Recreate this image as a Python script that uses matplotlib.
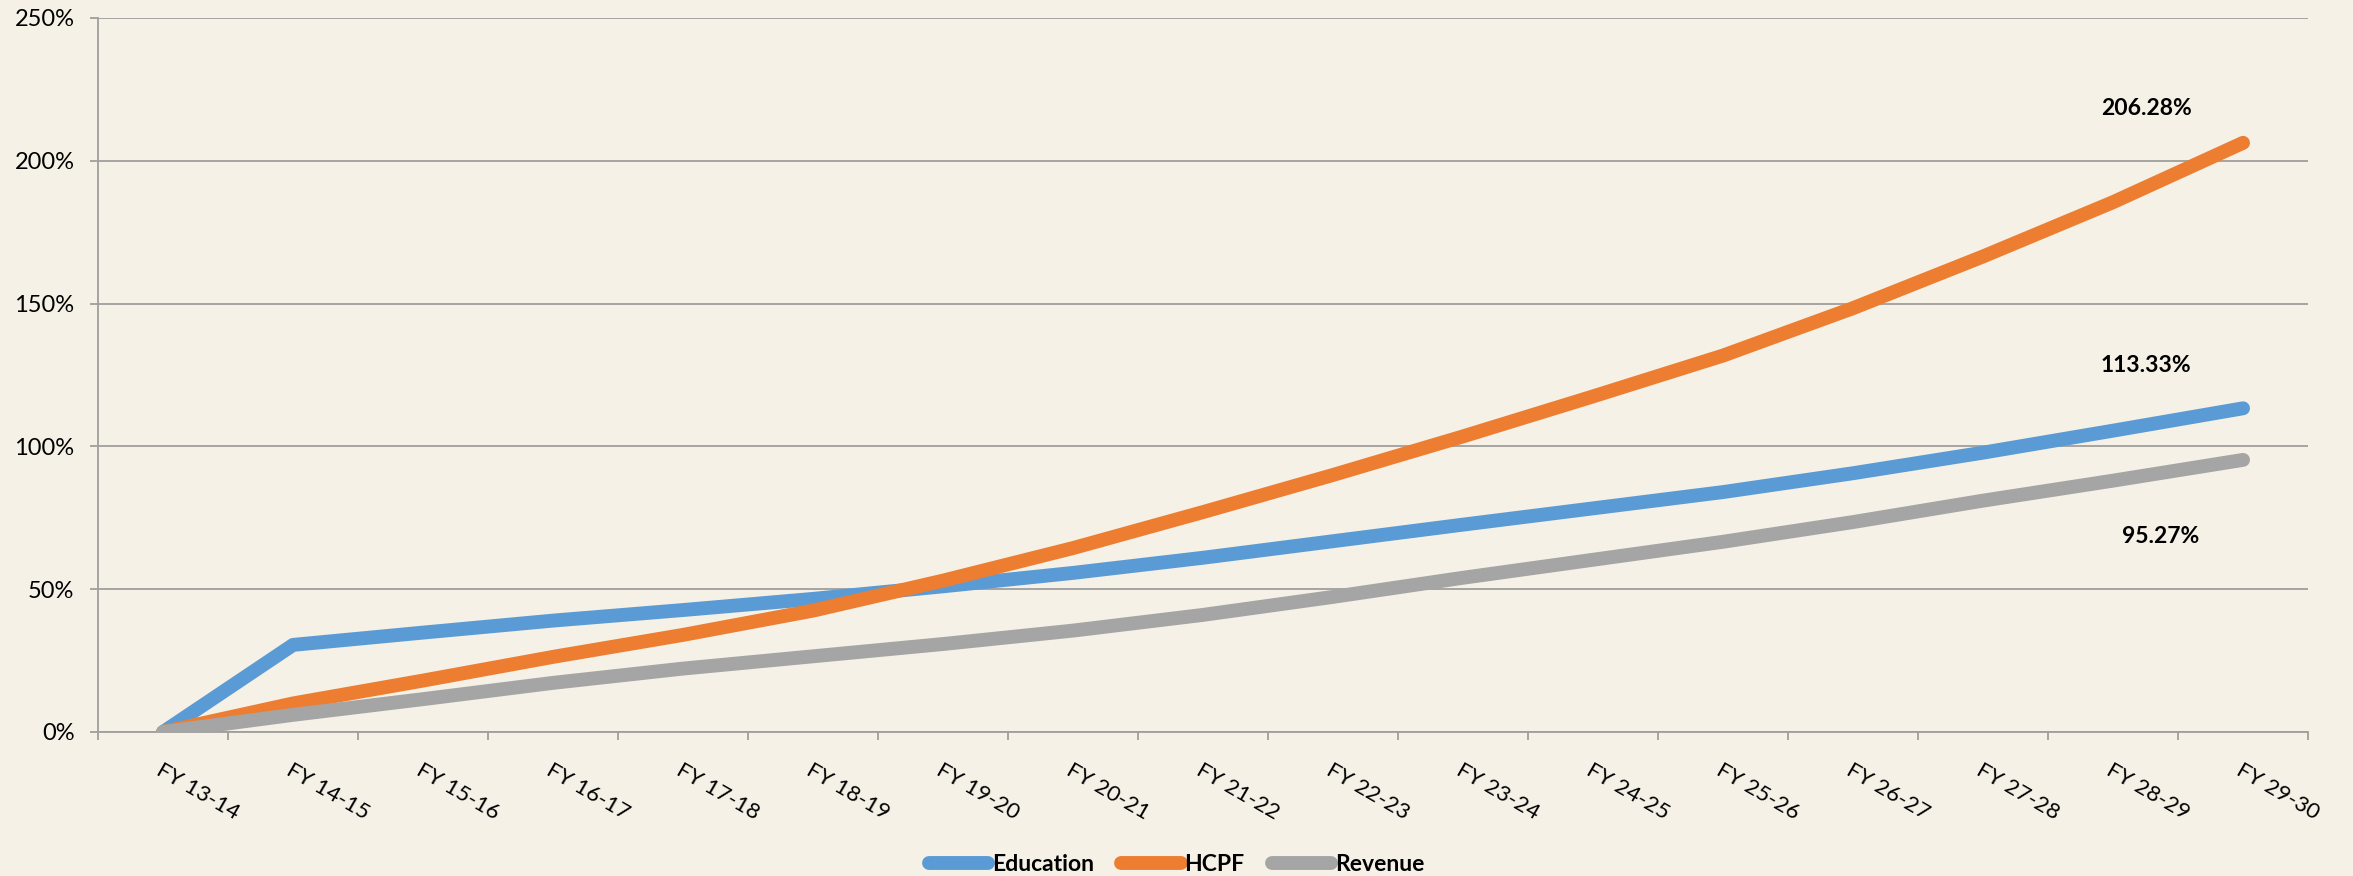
import matplotlib.pyplot as plt
from matplotlib.ticker import FuncFormatter, MultipleLocator
import numpy as np

years = ["FY 13-14", "FY 14-15", "FY 15-16", "FY 16-17", "FY 17-18", "FY 18-19",
         "FY 19-20", "FY 20-21", "FY 21-22", "FY 22-23", "FY 23-24", "FY 24-25",
         "FY 25-26", "FY 26-27", "FY 27-28", "FY 28-29", "FY 29-30"]

education = [0, 30.5, 34.8, 39.0, 42.7, 46.6, 51.0, 55.7, 61.0, 66.8, 72.6,
             78.3, 84.0, 90.6, 97.8, 105.5, 113.33]
hcpf = [0, 10.0, 18.0, 26.3, 34.0, 42.5, 53.0, 64.4, 77.0, 90.0, 103.5,
        117.5, 131.8, 148.4, 166.5, 185.5, 206.28]
revenue = [0, 6.0, 11.5, 17.2, 22.2, 26.5, 30.8, 35.5, 41.0, 47.3, 54.0,
           60.3, 66.6, 73.5, 81.0, 88.0, 95.27]

bg = "#F5F1E6"
grid_col = "#A09F9C"
plt.rcParams['font.family'] = ['Lato', 'DejaVu Sans']

fig = plt.figure(figsize=(23.53, 8.76), dpi=100, facecolor=bg)
ax = fig.add_axes([0.0417, 0.1644, 0.9392, 0.8151])
ax.set_facecolor(bg)

x = np.arange(len(years))
series = [("Education", education, "#5B9BD5"),
          ("HCPF", hcpf, "#ED7D31"),
          ("Revenue", revenue, "#A5A5A5")]
for name, vals, col in series:
    ax.plot(x, vals, color=col, lw=10, label=name,
            solid_capstyle="round", solid_joinstyle="round", zorder=3)

# end-point labels
ax.annotate(f"{hcpf[-1]:.2f}%", (x[-1], hcpf[-1]), xytext=(-97, 34),
            textcoords="offset pixels", ha="center", va="center",
            fontsize=16.5, fontweight="bold")
ax.annotate(f"{education[-1]:.2f}%", (x[-1], education[-1]), xytext=(-97, 43),
            textcoords="offset pixels", ha="center", va="center",
            fontsize=16.5, fontweight="bold")
ax.annotate(f"{revenue[-1]:.2f}%", (x[-1], revenue[-1]), xytext=(-82, -77),
            textcoords="offset pixels", ha="center", va="center",
            fontsize=16.5, fontweight="bold")

ax.set_xlim(-0.5, len(years) - 0.5)
ax.set_ylim(0, 250)
ax.yaxis.set_major_locator(MultipleLocator(50))
ax.yaxis.set_major_formatter(FuncFormatter(lambda v, p: f"{v:.0f}%"))
ax.grid(axis="y", color=grid_col, lw=1.3)
ax.set_axisbelow(True)

ax.set_xticks(x)
ax.set_xticklabels(years, rotation=-30, ha="left", rotation_mode="anchor")
ax.set_xticks(np.arange(-0.5, len(years), 1), minor=True)
ax.tick_params(axis="x", which="major", length=0, pad=20, labelsize=16)
ax.tick_params(axis="x", which="minor", length=6, width=1.3, color=grid_col)
ax.tick_params(axis="y", length=6, width=1.3, color=grid_col, pad=11, labelsize=17)

for s in ["top", "right"]:
    ax.spines[s].set_visible(False)
for s in ["left", "bottom"]:
    ax.spines[s].set_color(grid_col)
    ax.spines[s].set_linewidth(1.3)

leg = fig.legend(loc="center", bbox_to_anchor=(0.5, 0.013), ncol=3, frameon=False,
                 handlelength=2.6, handletextpad=0.15, columnspacing=1.2,
                 prop={"weight": "bold", "size": 16.5})

fig.savefig("out.png", dpi=100, facecolor=bg)
